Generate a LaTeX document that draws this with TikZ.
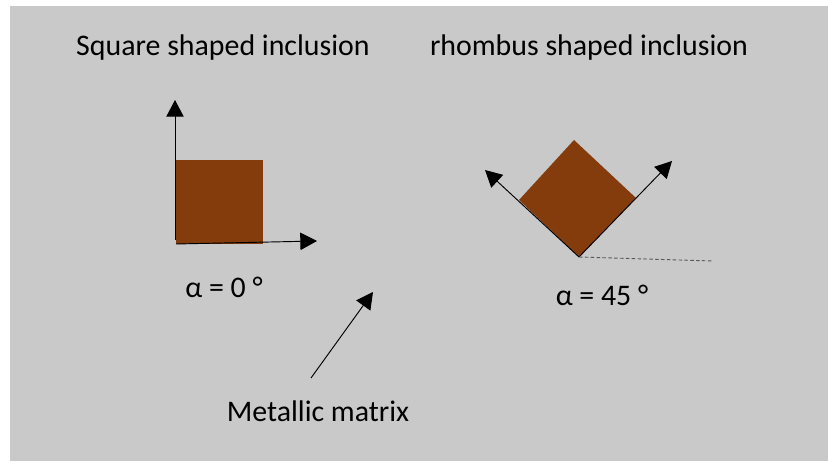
\documentclass[tikz,border=0pt]{standalone}
\usepackage{fontspec}
\setmainfont{Carlito}
\definecolor{inclbrown}{HTML}{843C0C}
\definecolor{matgrey}{HTML}{C9C9C9}
\usetikzlibrary{arrows.meta, positioning}

\begin{document}
\begin{tikzpicture}[x=0.03cm, y=-0.03cm,
    axis/.style={-{Triangle[length=0.5cm, width=0.52cm]}, line width=0.8pt, black},
    lab/.style={anchor=base, inner sep=0pt, font=\fontsize{25.5}{30}\selectfont}]
    \useasboundingbox (0,0) rectangle (828,461);
    \fill[matgrey] (10,6) rectangle (828,461);

    % square inclusion, alpha = 0
    \coordinate (sqo) at (176,244);
    \coordinate (sqy) at (175,100);
    \coordinate (sqx) at (317,241);
    \fill[inclbrown] (176,160) rectangle (263,244);
    \draw[axis] (175,240) -- (sqy);
    \draw[axis] (sqo) -- (sqx);

    % rhombus inclusion, alpha = 45
    \coordinate (rt) at (574,140);
    \coordinate (rl) at (519,200);
    \coordinate (rb) at (579,257);
    \coordinate (rr) at (636,198);
    \coordinate (rxl) at (485,170);
    \coordinate (rxr) at (672,161);
    \coordinate (rh) at (713,261);
    \fill[inclbrown] (rt) -- (rl) -- (rb) -- (rr) -- cycle;
    \draw[axis] (rb) -- (rxl);
    \draw[axis] (rb) -- (rxr);
    \draw[dash pattern=on 3pt off 2pt, black!65, line width=0.8pt] (rb) -- (rh);

    % labels
    \foreach \name/\pos/\txt in {%
      tsq/{223,56}/{Square shaped inclusion},
      trh/{589,56}/{rhombus shaped inclusion},
      asq/{224,298}/{α = 0 °},
      arh/{602,306}/{α = 45 °},
      mm/{318,422}/{Metallic matrix}}{%
      \node[lab] (\name) at (\pos) {\txt};
    }

    \coordinate (mtail) at (311,378);
    \coordinate (mhead) at (373,292);
    \draw[axis] (mtail) -- (mhead);
  \end{tikzpicture}
\end{document}
